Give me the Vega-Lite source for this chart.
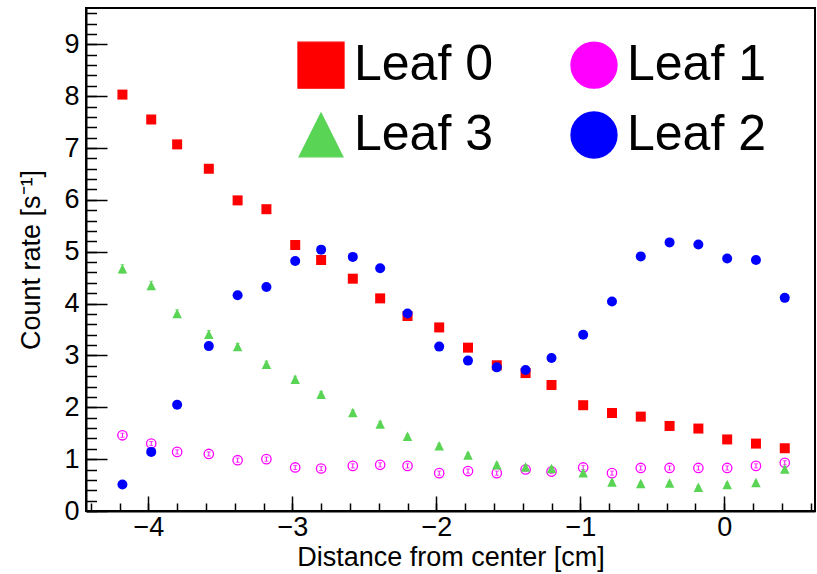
{
  "$schema": "https://vega.github.io/schema/vega-lite/v6.json",
  "width": 729,
  "height": 503,
  "autosize": {"type": "none"},
  "padding": {"left": 86, "top": 8, "right": 2, "bottom": 63},
  "background": "white",
  "config": {
    "font": "Liberation Sans",
    "view": {"stroke": "black", "strokeWidth": 2},
    "axis": {
      "grid": false,
      "domainColor": "black",
      "domainWidth": 2,
      "tickColor": "black",
      "tickWidth": 1.5,
      "labelColor": "black",
      "titleColor": "black",
      "labelFont": "Liberation Sans",
      "titleFont": "Liberation Sans",
      "labelFontSize": 27,
      "titleFontSize": 27,
      "titleFontWeight": "normal",
      "labelFlush": false
    }
  },
  "data": {
    "values": [
      {"s": "Leaf 0", "x": -4.18, "y": 8.03, "e": 0.07},
      {"s": "Leaf 0", "x": -3.98, "y": 7.55, "e": 0.07},
      {"s": "Leaf 0", "x": -3.8, "y": 7.07, "e": 0.07},
      {"s": "Leaf 0", "x": -3.58, "y": 6.6, "e": 0.06},
      {"s": "Leaf 0", "x": -3.38, "y": 5.99, "e": 0.06},
      {"s": "Leaf 0", "x": -3.18, "y": 5.82, "e": 0.06},
      {"s": "Leaf 0", "x": -2.98, "y": 5.13, "e": 0.06},
      {"s": "Leaf 0", "x": -2.8, "y": 4.84, "e": 0.06},
      {"s": "Leaf 0", "x": -2.58, "y": 4.48, "e": 0.05},
      {"s": "Leaf 0", "x": -2.39, "y": 4.1, "e": 0.05},
      {"s": "Leaf 0", "x": -2.2, "y": 3.76, "e": 0.05},
      {"s": "Leaf 0", "x": -1.98, "y": 3.54, "e": 0.05},
      {"s": "Leaf 0", "x": -1.78, "y": 3.15, "e": 0.05},
      {"s": "Leaf 0", "x": -1.58, "y": 2.81, "e": 0.04},
      {"s": "Leaf 0", "x": -1.38, "y": 2.66, "e": 0.04},
      {"s": "Leaf 0", "x": -1.2, "y": 2.43, "e": 0.04},
      {"s": "Leaf 0", "x": -0.98, "y": 2.04, "e": 0.04},
      {"s": "Leaf 0", "x": -0.78, "y": 1.89, "e": 0.04},
      {"s": "Leaf 0", "x": -0.58, "y": 1.82, "e": 0.04},
      {"s": "Leaf 0", "x": -0.38, "y": 1.64, "e": 0.04},
      {"s": "Leaf 0", "x": -0.18, "y": 1.59, "e": 0.03},
      {"s": "Leaf 0", "x": 0.02, "y": 1.38, "e": 0.03},
      {"s": "Leaf 0", "x": 0.22, "y": 1.3, "e": 0.03},
      {"s": "Leaf 0", "x": 0.42, "y": 1.21, "e": 0.03},
      {"s": "Leaf 1", "x": -4.18, "y": 1.46, "e": 0.04},
      {"s": "Leaf 1", "x": -3.98, "y": 1.3, "e": 0.04},
      {"s": "Leaf 1", "x": -3.8, "y": 1.14, "e": 0.04},
      {"s": "Leaf 1", "x": -3.58, "y": 1.1, "e": 0.04},
      {"s": "Leaf 1", "x": -3.38, "y": 0.98, "e": 0.04},
      {"s": "Leaf 1", "x": -3.18, "y": 1.0, "e": 0.04},
      {"s": "Leaf 1", "x": -2.98, "y": 0.84, "e": 0.04},
      {"s": "Leaf 1", "x": -2.8, "y": 0.82, "e": 0.04},
      {"s": "Leaf 1", "x": -2.58, "y": 0.87, "e": 0.04},
      {"s": "Leaf 1", "x": -2.39, "y": 0.89, "e": 0.04},
      {"s": "Leaf 1", "x": -2.2, "y": 0.87, "e": 0.04},
      {"s": "Leaf 1", "x": -1.98, "y": 0.73, "e": 0.04},
      {"s": "Leaf 1", "x": -1.78, "y": 0.77, "e": 0.04},
      {"s": "Leaf 1", "x": -1.58, "y": 0.73, "e": 0.04},
      {"s": "Leaf 1", "x": -1.38, "y": 0.8, "e": 0.04},
      {"s": "Leaf 1", "x": -1.2, "y": 0.76, "e": 0.04},
      {"s": "Leaf 1", "x": -0.98, "y": 0.84, "e": 0.04},
      {"s": "Leaf 1", "x": -0.78, "y": 0.73, "e": 0.04},
      {"s": "Leaf 1", "x": -0.58, "y": 0.83, "e": 0.04},
      {"s": "Leaf 1", "x": -0.38, "y": 0.83, "e": 0.04},
      {"s": "Leaf 1", "x": -0.18, "y": 0.83, "e": 0.04},
      {"s": "Leaf 1", "x": 0.02, "y": 0.83, "e": 0.04},
      {"s": "Leaf 1", "x": 0.22, "y": 0.87, "e": 0.04},
      {"s": "Leaf 1", "x": 0.42, "y": 0.93, "e": 0.04},
      {"s": "Leaf 2", "x": -4.18, "y": 0.51, "e": 0.03},
      {"s": "Leaf 2", "x": -3.98, "y": 1.14, "e": 0.03},
      {"s": "Leaf 2", "x": -3.8, "y": 2.05, "e": 0.04},
      {"s": "Leaf 2", "x": -3.58, "y": 3.18, "e": 0.05},
      {"s": "Leaf 2", "x": -3.38, "y": 4.16, "e": 0.05},
      {"s": "Leaf 2", "x": -3.18, "y": 4.32, "e": 0.05},
      {"s": "Leaf 2", "x": -2.98, "y": 4.82, "e": 0.05},
      {"s": "Leaf 2", "x": -2.8, "y": 5.04, "e": 0.05},
      {"s": "Leaf 2", "x": -2.58, "y": 4.9, "e": 0.05},
      {"s": "Leaf 2", "x": -2.39, "y": 4.68, "e": 0.05},
      {"s": "Leaf 2", "x": -2.2, "y": 3.81, "e": 0.05},
      {"s": "Leaf 2", "x": -1.98, "y": 3.17, "e": 0.05},
      {"s": "Leaf 2", "x": -1.78, "y": 2.9, "e": 0.04},
      {"s": "Leaf 2", "x": -1.58, "y": 2.77, "e": 0.04},
      {"s": "Leaf 2", "x": -1.38, "y": 2.72, "e": 0.04},
      {"s": "Leaf 2", "x": -1.2, "y": 2.95, "e": 0.04},
      {"s": "Leaf 2", "x": -0.98, "y": 3.4, "e": 0.05},
      {"s": "Leaf 2", "x": -0.78, "y": 4.04, "e": 0.05},
      {"s": "Leaf 2", "x": -0.58, "y": 4.91, "e": 0.05},
      {"s": "Leaf 2", "x": -0.38, "y": 5.18, "e": 0.05},
      {"s": "Leaf 2", "x": -0.18, "y": 5.14, "e": 0.05},
      {"s": "Leaf 2", "x": 0.02, "y": 4.87, "e": 0.05},
      {"s": "Leaf 2", "x": 0.22, "y": 4.84, "e": 0.05},
      {"s": "Leaf 2", "x": 0.42, "y": 4.11, "e": 0.05},
      {"s": "Leaf 3", "x": -4.18, "y": 4.67, "e": 0.08},
      {"s": "Leaf 3", "x": -3.98, "y": 4.35, "e": 0.08},
      {"s": "Leaf 3", "x": -3.8, "y": 3.81, "e": 0.07},
      {"s": "Leaf 3", "x": -3.58, "y": 3.41, "e": 0.07},
      {"s": "Leaf 3", "x": -3.38, "y": 3.17, "e": 0.06},
      {"s": "Leaf 3", "x": -3.18, "y": 2.83, "e": 0.06},
      {"s": "Leaf 3", "x": -2.98, "y": 2.54, "e": 0.06},
      {"s": "Leaf 3", "x": -2.8, "y": 2.25, "e": 0.05},
      {"s": "Leaf 3", "x": -2.58, "y": 1.9, "e": 0.05},
      {"s": "Leaf 3", "x": -2.39, "y": 1.68, "e": 0.05},
      {"s": "Leaf 3", "x": -2.2, "y": 1.44, "e": 0.04},
      {"s": "Leaf 3", "x": -1.98, "y": 1.26, "e": 0.04},
      {"s": "Leaf 3", "x": -1.78, "y": 1.08, "e": 0.04},
      {"s": "Leaf 3", "x": -1.58, "y": 0.89, "e": 0.04},
      {"s": "Leaf 3", "x": -1.38, "y": 0.85, "e": 0.04},
      {"s": "Leaf 3", "x": -1.2, "y": 0.82, "e": 0.04},
      {"s": "Leaf 3", "x": -0.98, "y": 0.74, "e": 0.03},
      {"s": "Leaf 3", "x": -0.78, "y": 0.56, "e": 0.03},
      {"s": "Leaf 3", "x": -0.58, "y": 0.53, "e": 0.03},
      {"s": "Leaf 3", "x": -0.38, "y": 0.54, "e": 0.03},
      {"s": "Leaf 3", "x": -0.18, "y": 0.46, "e": 0.03},
      {"s": "Leaf 3", "x": 0.02, "y": 0.51, "e": 0.03},
      {"s": "Leaf 3", "x": 0.22, "y": 0.55, "e": 0.03},
      {"s": "Leaf 3", "x": 0.42, "y": 0.81, "e": 0.04}
    ]
  },
  "resolve": {"axis": {"x": "independent", "y": "independent"}},
  "layer": [
    {
      "transform": [{"filter": "datum.s === 'Leaf 1'"}],
      "mark": {"type": "point", "filled": false, "size": 88, "strokeWidth": 1.3, "opacity": 1},
      "encoding": {
        "x": {
          "field": "x", "type": "quantitative",
          "scale": {"domain": [-4.433, 0.63], "nice": false, "zero": false},
          "axis": {"orient": "bottom", "values": [-4, -3, -2, -1, 0], "format": "d", "tickSize": -15, "labelPadding": 18, "title": "Distance from center [cm]", "titlePadding": 4}
        },
        "y": {
          "field": "y", "type": "quantitative",
          "scale": {"domain": [0, 9.7], "nice": false, "zero": false},
          "axis": {"orient": "left", "values": [0, 1, 2, 3, 4, 5, 6, 7, 8, 9], "format": "d", "tickSize": -21, "labelPadding": 28, "title": "Count rate [s⁻¹]", "titlePadding": 18}
        },
        "color": {
          "field": "s", "type": "nominal",
          "scale": {"domain": ["Leaf 0", "Leaf 1", "Leaf 3", "Leaf 2"], "range": ["#ff0000", "#ff00ff", "#59d454", "#0000ff"]},
          "legend": {
            "title": null, "orient": "none", "legendX": 210, "legendY": 32, "columns": 2, "direction": "horizontal", "padding": 0,
            "labelFontSize": 50, "labelFont": "Liberation Sans", "labelColor": "black", "labelOffset": 8, "labelLimit": 400,
            "columnPadding": 74, "rowPadding": 18, "symbolSize": 2116, "symbolStrokeWidth": 1.3,
            "encode": {
              "symbols": {
                "shape": {"signal": "datum.value === 'Leaf 0' ? 'M-1,0H1M-0.26,-0.26H0.26V0.26H-0.26Z' : datum.value === 'Leaf 1' ? 'M-1,0H-0.2M0.2,0H1M0.2,0A0.2,0.2,0,1,1,-0.2,0A0.2,0.2,0,1,1,0.2,0Z' : datum.value === 'Leaf 3' ? 'M-1,0H1M0,-0.22L0.24,0.22H-0.24Z' : 'M-1,0H1M0.22,0A0.22,0.22,0,1,1,-0.22,0A0.22,0.22,0,1,1,0.22,0Z'"},
                "fill": {"signal": "datum.value === 'Leaf 0' ? '#ff0000' : datum.value === 'Leaf 1' ? 'white' : datum.value === 'Leaf 3' ? '#59d454' : '#0000ff'"},
                "stroke": {"signal": "datum.value === 'Leaf 0' ? '#ff0000' : datum.value === 'Leaf 1' ? '#ff00ff' : datum.value === 'Leaf 3' ? '#59d454' : '#0000ff'"},
                "strokeWidth": {"value": 1.3},
                "opacity": {"value": 1},
                "fillOpacity": {"value": 1},
                "strokeOpacity": {"value": 1}
              }
            }
          }
        }
      }
    },
    {
      "mark": {"type": "errorbar", "ticks": {"size": 4}, "thickness": 1},
      "encoding": {
        "x": {"field": "x", "type": "quantitative", "axis": null, "scale": {"domain": [-4.433, 0.63], "nice": false, "zero": false}},
        "y": {"field": "y", "type": "quantitative", "axis": null, "scale": {"domain": [0, 9.7], "nice": false, "zero": false}},
        "yError": {"field": "e"},
        "color": {"field": "s", "type": "nominal", "scale": {"domain": ["Leaf 0", "Leaf 1", "Leaf 3", "Leaf 2"], "range": ["#ff0000", "#ff00ff", "#59d454", "#0000ff"]}}
      }
    },
    {
      "transform": [{"filter": "datum.s !== 'Leaf 1'"}],
      "mark": {"type": "point", "filled": true, "size": 100, "opacity": 1},
      "encoding": {
        "x": {
          "field": "x", "type": "quantitative",
          "scale": {"domain": [-4.433, 0.63], "nice": false, "zero": false},
          "axis": {"orient": "bottom", "values": [-4.4, -4.2, -4.0, -3.8, -3.6, -3.4, -3.2, -3.0, -2.8, -2.6, -2.4, -2.2, -2.0, -1.8, -1.6, -1.4, -1.2, -1.0, -0.8, -0.6, -0.4, -0.2, 0.0, 0.2, 0.4, 0.6], "tickSize": -8, "labels": false, "domain": false, "title": null}
        },
        "y": {
          "field": "y", "type": "quantitative",
          "scale": {"domain": [0, 9.7], "nice": false, "zero": false},
          "axis": {"orient": "left", "values": [0, 0.2, 0.4, 0.6, 0.8, 1, 1.2, 1.4, 1.6, 1.8, 2, 2.2, 2.4, 2.6, 2.8, 3, 3.2, 3.4, 3.6, 3.8, 4, 4.2, 4.4, 4.6, 4.8, 5, 5.2, 5.4, 5.6, 5.8, 6, 6.2, 6.4, 6.6, 6.8, 7, 7.2, 7.4, 7.6, 7.8, 8, 8.2, 8.4, 8.6, 8.8, 9, 9.2, 9.4, 9.6], "tickSize": -10.5, "labels": false, "domain": false, "title": null}
        },
        "color": {
          "field": "s", "type": "nominal",
          "scale": {"domain": ["Leaf 0", "Leaf 1", "Leaf 3", "Leaf 2"], "range": ["#ff0000", "#ff00ff", "#59d454", "#0000ff"]}
        },
        "shape": {
          "field": "s", "type": "nominal",
          "scale": {"domain": ["Leaf 0", "Leaf 1", "Leaf 3", "Leaf 2"], "range": ["square", "circle", "M0,-0.95L0.95,0.95H-0.95Z", "circle"]},
          "legend": null
        }
      }
    }
  ]
}
